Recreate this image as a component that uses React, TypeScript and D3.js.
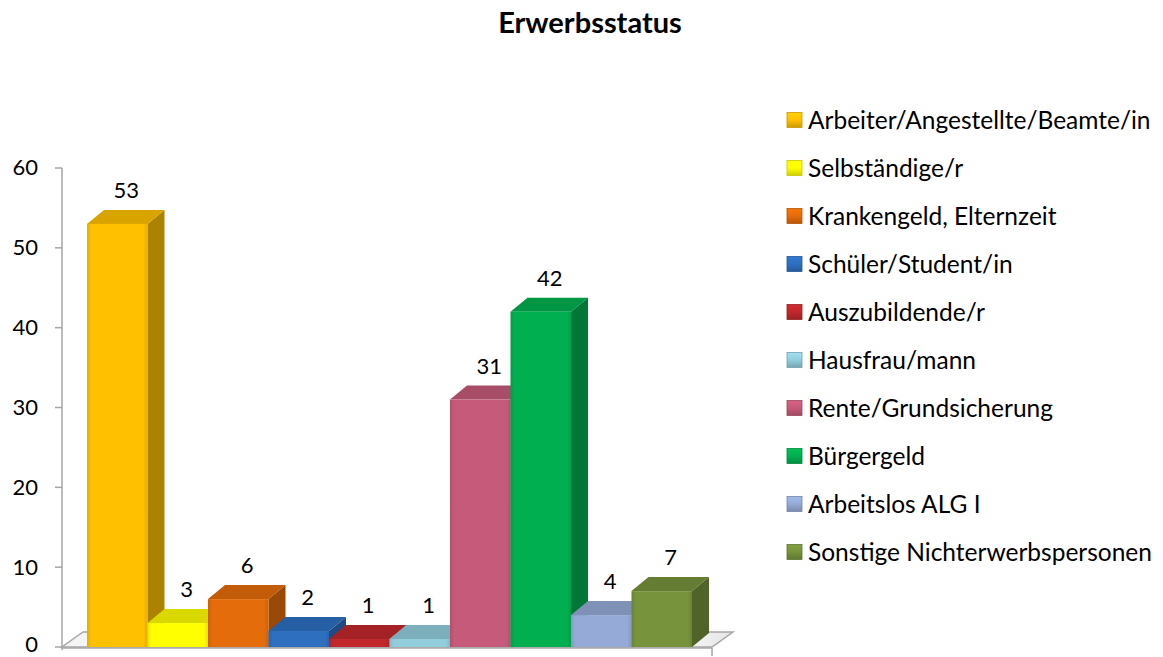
import * as d3 from "d3";

// Kategorien und Werte
const categories = [
  "Arbeiter/Angestellte/Beamte/in",
  "Selbständige/r",
  "Krankengeld, Elternzeit",
  "Schüler/Student/in",
  "Auszubildende/r",
  "Hausfrau/mann",
  "Rente/Grundsicherung",
  "Bürgergeld",
  "Arbeitslos ALG I",
  "Sonstige Nichterwerbspersonen",
];
const values = [53, 3, 6, 2, 1, 1, 31, 42, 4, 7];
const colors = [
  "#ffc000",
  "#ffff00",
  "#e46c0a",
  "#2e6fc0",
  "#c0282c",
  "#92cddc",
  "#c55a7a",
  "#00b050",
  "#95aad6",
  "#77933c",
];
const yTicks = [0, 10, 20, 30, 40, 50, 60];

const W = 1163;
const H = 657;
const FONT = "Lato, 'Open Sans', sans-serif";

// Tiefe des 3D-Effekts
const DX = 17;
const DY = -14;

export default function App() {
  const y = d3.scaleLinear().domain([0, 60]).range([647, 168]);
  const x = d3.scaleBand<number>().domain(d3.range(values.length)).range([87, 692]).padding(0);
  const y0 = y(0);
  const bw = x.bandwidth();

  return (
    <svg width={W} height={H} style={{ position: "absolute", left: 0, top: 0, background: "#fff" }}>
      <defs>
        {colors.map((c, i) => {
          const dark = d3.color(c)!.darker(0.3).formatHex();
          const light = d3.color(c)!.brighter(0.25).formatHex();
          return (
            <g key={i}>
              <linearGradient id={`front${i}`} x1="0" x2="1" y1="0" y2="0">
                <stop offset="0" stopColor={dark} />
                <stop offset="0.07" stopColor={c} />
                <stop offset="0.93" stopColor={c} />
                <stop offset="1" stopColor={dark} />
              </linearGradient>
              <linearGradient id={`leg${i}`} x1="0" x2="0" y1="0" y2="1">
                <stop offset="0" stopColor={light} />
                <stop offset="0.5" stopColor={c} />
                <stop offset="1" stopColor={d3.color(c)!.darker(0.6).formatHex()} />
              </linearGradient>
            </g>
          );
        })}
        <linearGradient id="floor" x1="0" x2="1" y1="0" y2="0">
          <stop offset="0" stopColor="#f4f4f4" />
          <stop offset="0.9" stopColor="#ffffff" />
          <stop offset="1" stopColor="#e4e4e4" />
        </linearGradient>
      </defs>

      {/* Titel */}
      <text x={590} y={33} textAnchor="middle" fontFamily={FONT} fontWeight="bold" fontSize={29} fill="#000">
        Erwerbsstatus
      </text>

      {/* Boden */}
      <path
        d={`M62,${y0} L712,${y0} L733,${y0 - 15} L83,${y0 - 15} Z`}
        fill="url(#floor)"
        stroke="#a6a6a6"
        strokeWidth={1.5}
      />

      {/* Y-Achse */}
      <line x1={62} x2={62} y1={y(60)} y2={y0 + 3} stroke="#a6a6a6" strokeWidth={1.5} />
      {yTicks.map((t) => (
        <g key={t}>
          <line x1={55} x2={62} y1={y(t)} y2={y(t)} stroke="#a6a6a6" strokeWidth={1.5} />
          <text
            x={38}
            y={t === 0 ? y(t) - 2 : y(t)}
            dy="0.34em"
            textAnchor="end"
            fontFamily={FONT}
            fontSize={22}
            fill="#000"
          >
            {t}
          </text>
        </g>
      ))}

      {/* Balken */}
      {values.map((v, i) => {
        const x0 = x(i)!;
        const x1 = x0 + bw;
        const top = y(v);
        const c = d3.color(colors[i])!;
        return (
          <g key={i}>
            <path
              d={`M${x1},${y0} L${x1 + DX},${y0 + DY} L${x1 + DX},${top + DY} L${x1},${top} Z`}
              fill={c.darker(1.1).formatHex()}
            />
            <path
              d={`M${x0},${top} L${x0 + DX},${top + DY} L${x1 + DX},${top + DY} L${x1},${top} Z`}
              fill={c.darker(0.45).formatHex()}
            />
            <rect x={x0} y={top} width={bw} height={y0 - top} fill={`url(#front${i})`} />
          </g>
        );
      })}

      {/* X-Achse */}
      <line x1={62} x2={712} y1={y0 + 1} y2={y0 + 1} stroke="#a6a6a6" strokeWidth={1.5} />
      <line x1={712} x2={712} y1={y0 + 1} y2={y0 + 9} stroke="#a6a6a6" strokeWidth={1.5} />

      {/* Werte */}
      {values.map((v, i) => (
        <text
          key={i}
          x={x(i)! + bw / 2 + 9}
          y={y(v) + DY - 12}
          textAnchor="middle"
          fontFamily={FONT}
          fontSize={22}
          fill="#000"
        >
          {v}
        </text>
      ))}

      {/* Legende */}
      {categories.map((cat, i) => {
        const ly = 120 + i * 48;
        const c = d3.color(colors[i])!;
        return (
          <g key={cat}>
            <rect
              x={787}
              y={ly - 7.5}
              width={15}
              height={15}
              fill={`url(#leg${i})`}
              stroke={c.darker(0.7).formatHex()}
              strokeWidth={0.8}
            />
            <text x={808} y={ly} dy="0.36em" fontFamily={FONT} fontSize={24.5} fill="#000">
              {cat}
            </text>
          </g>
        );
      })}
    </svg>
  );
}
